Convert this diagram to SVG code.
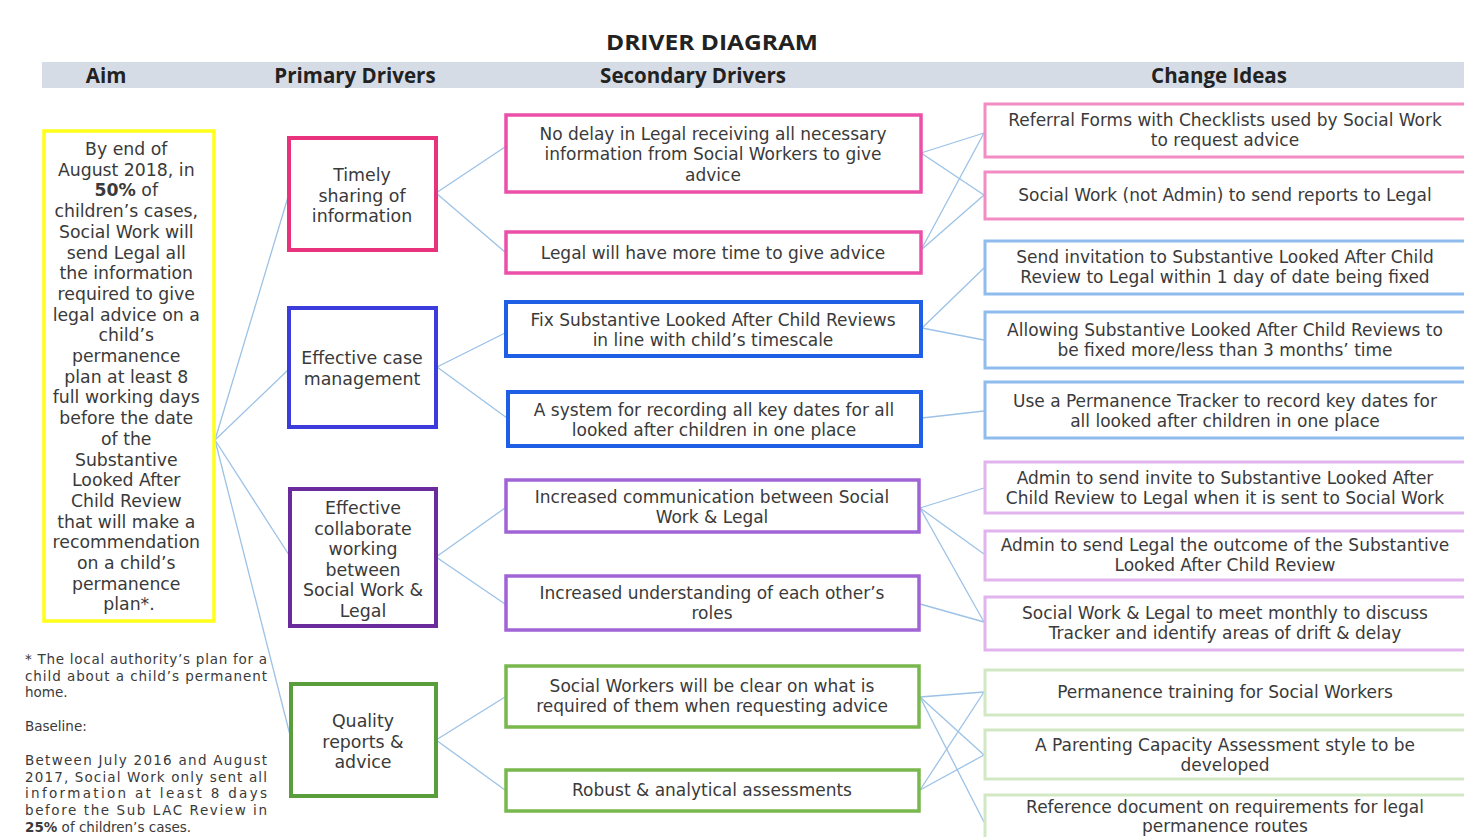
<svg xmlns="http://www.w3.org/2000/svg" width="1464" height="837" viewBox="0 0 1464 837">
<style>
.t{font-family:"DejaVu Sans","Liberation Sans",sans-serif;fill:#3a3a3a;text-anchor:middle}
.aim{font-size:17.3px}
.pd{font-size:17.4px}
.sd{font-size:17px}
.ci{font-size:17px}
.fn{font-family:"DejaVu Sans","Liberation Sans",sans-serif;fill:#3a3a3a;font-size:13.5px}
.hd{font-family:"Open Sans","Liberation Sans",sans-serif;font-weight:bold;fill:#222;text-anchor:middle;font-size:20.5px}
.box{fill:#fff}
.c{stroke:#9cc2e6;stroke-width:1.3;fill:none}
</style>
<rect width="1464" height="837" fill="#fff"/>
<text class="hd" x="712" y="50" font-size="27" textLength="212" lengthAdjust="spacingAndGlyphs">DRIVER DIAGRAM</text>
<rect x="42" y="62" width="1422" height="26" fill="#d6dce5"/>
<text class="hd" x="106" y="83">Aim</text>
<text class="hd" x="355" y="83">Primary Drivers</text>
<text class="hd" x="693" y="83">Secondary Drivers</text>
<text class="hd" x="1219" y="83">Change Ideas</text>

<g id="connectors">
<line class="c" x1="215" y1="440" x2="288" y2="197"/>
<line class="c" x1="215" y1="440" x2="288" y2="370"/>
<line class="c" x1="215" y1="440" x2="289" y2="555"/>
<line class="c" x1="215" y1="440" x2="290" y2="735"/>
<line class="c" x1="436" y1="193" x2="505" y2="147"/>
<line class="c" x1="436" y1="193" x2="505" y2="252"/>
<line class="c" x1="437" y1="367" x2="505" y2="333"/>
<line class="c" x1="437" y1="367" x2="507" y2="418"/>
<line class="c" x1="436" y1="557" x2="505" y2="508"/>
<line class="c" x1="436" y1="557" x2="505" y2="604"/>
<line class="c" x1="436" y1="740" x2="505" y2="697"/>
<line class="c" x1="436" y1="740" x2="505" y2="790"/>
<line class="c" x1="921" y1="153" x2="984" y2="133"/>
<line class="c" x1="921" y1="153" x2="984" y2="195"/>
<line class="c" x1="921" y1="250" x2="984" y2="133"/>
<line class="c" x1="921" y1="250" x2="984" y2="195"/>
<line class="c" x1="922" y1="328" x2="984" y2="268"/>
<line class="c" x1="922" y1="328" x2="984" y2="340"/>
<line class="c" x1="922" y1="418" x2="984" y2="411"/>
<line class="c" x1="920" y1="508" x2="984" y2="488"/>
<line class="c" x1="920" y1="508" x2="984" y2="554"/>
<line class="c" x1="920" y1="508" x2="984" y2="622"/>
<line class="c" x1="920" y1="604" x2="984" y2="622"/>
<line class="c" x1="920" y1="697" x2="984" y2="692"/>
<line class="c" x1="920" y1="697" x2="984" y2="755"/>
<line class="c" x1="920" y1="697" x2="984" y2="822"/>
<line class="c" x1="920" y1="790" x2="984" y2="692"/>
<line class="c" x1="920" y1="790" x2="984" y2="755"/>
</g>

<g id="aim">
<rect class="box" x="44" y="131" width="170" height="490" stroke="#ffff1a" stroke-width="3.5"/>
<text class="t aim">
<tspan x="129" y="155">By end of</tspan>
<tspan x="129" y="175.7">August 2018, in</tspan>
<tspan x="129" y="196.4"><tspan font-weight="bold">50%</tspan> of</tspan>
<tspan x="129" y="217.1">children’s cases,</tspan>
<tspan x="129" y="237.8">Social Work will</tspan>
<tspan x="129" y="258.5">send Legal all</tspan>
<tspan x="129" y="279.2">the information</tspan>
<tspan x="129" y="299.9">required to give</tspan>
<tspan x="129" y="320.6">legal advice on a</tspan>
<tspan x="129" y="341.3">child’s</tspan>
<tspan x="129" y="362">permanence</tspan>
<tspan x="129" y="382.7">plan at least 8</tspan>
<tspan x="129" y="403.4">full working days</tspan>
<tspan x="129" y="424.1">before the date</tspan>
<tspan x="129" y="444.8">of the</tspan>
<tspan x="129" y="465.5">Substantive</tspan>
<tspan x="129" y="486.2">Looked After</tspan>
<tspan x="129" y="506.9">Child Review</tspan>
<tspan x="129" y="527.6">that will make a</tspan>
<tspan x="129" y="548.3">recommendation</tspan>
<tspan x="129" y="569">on a child’s</tspan>
<tspan x="129" y="589.7">permanence</tspan>
<tspan x="129" y="610.4">plan*.</tspan>
</text>
</g>

<g id="footnote">
<text class="fn" x="25" y="664" textLength="242" lengthAdjust="spacing">* The local authority’s plan for a</text>
<text class="fn" x="25" y="681" textLength="242" lengthAdjust="spacing">child about a child’s permanent</text>
<text class="fn" x="25" y="697">home.</text>
<text class="fn" x="25" y="731">Baseline:</text>
<text class="fn" x="25" y="765" textLength="242" lengthAdjust="spacing">Between July 2016 and August</text>
<text class="fn" x="25" y="782" textLength="242" lengthAdjust="spacing">2017, Social Work only sent all</text>
<text class="fn" x="25" y="798" textLength="242" lengthAdjust="spacing">information at least 8 days</text>
<text class="fn" x="25" y="815" textLength="242" lengthAdjust="spacing">before the Sub LAC Review in</text>
<text class="fn" x="25" y="832"><tspan font-weight="bold">25%</tspan> of children’s cases.</text>
</g>

<g id="p1">
<rect class="box" x="289" y="138" width="147" height="112" stroke="#e8337c" stroke-width="4"/>
<text class="t pd"><tspan x="362" y="181">Timely</tspan><tspan x="362" y="201.5">sharing of</tspan><tspan x="362" y="222">information</tspan></text>
</g>
<g id="p2">
<rect class="box" x="289" y="308" width="147" height="119" stroke="#3c3cdc" stroke-width="4"/>
<text class="t pd"><tspan x="362" y="364">Effective case</tspan><tspan x="362" y="384.5">management</tspan></text>
</g>
<g id="p3">
<rect class="box" x="290" y="489" width="146" height="137" stroke="#6a2c9c" stroke-width="4"/>
<text class="t pd"><tspan x="363" y="514">Effective</tspan><tspan x="363" y="534.5">collaborate</tspan><tspan x="363" y="555">working</tspan><tspan x="363" y="575.5">between</tspan><tspan x="363" y="596">Social Work &amp;</tspan><tspan x="363" y="616.5">Legal</tspan></text>
</g>
<g id="p4">
<rect class="box" x="291" y="684" width="145" height="112" stroke="#5a9e3c" stroke-width="4"/>
<text class="t pd"><tspan x="363" y="727">Quality</tspan><tspan x="363" y="747.5">reports &amp;</tspan><tspan x="363" y="768">advice</tspan></text>
</g>

<g id="s1">
<rect class="box" x="506" y="115" width="415" height="77" stroke="#ec4fa8" stroke-width="3.5"/>
<text class="t sd"><tspan x="713" y="140">No delay in Legal receiving all necessary</tspan><tspan x="713" y="160">information from Social Workers to give</tspan><tspan x="713" y="181">advice</tspan></text>
</g>
<g id="s2">
<rect class="box" x="506" y="232" width="415" height="41" stroke="#ec4fa8" stroke-width="3.5"/>
<text class="t sd" x="713" y="259">Legal will have more time to give advice</text>
</g>
<g id="s3">
<rect class="box" x="506" y="302" width="415" height="54" stroke="#1e5fe6" stroke-width="4"/>
<text class="t sd"><tspan x="713" y="326">Fix Substantive Looked After Child Reviews</tspan><tspan x="713" y="346">in line with child’s timescale</tspan></text>
</g>
<g id="s4">
<rect class="box" x="508" y="392" width="413" height="54" stroke="#1e5fe6" stroke-width="4"/>
<text class="t sd"><tspan x="714" y="416">A system for recording all key dates for all</tspan><tspan x="714" y="436">looked after children in one place</tspan></text>
</g>
<g id="s5">
<rect class="box" x="506" y="480" width="413" height="52" stroke="#a064d6" stroke-width="3.5"/>
<text class="t sd"><tspan x="712" y="503">Increased communication between Social</tspan><tspan x="712" y="523">Work &amp; Legal</tspan></text>
</g>
<g id="s6">
<rect class="box" x="506" y="576" width="413" height="54" stroke="#a064d6" stroke-width="3.5"/>
<text class="t sd"><tspan x="712" y="599">Increased understanding of each other’s</tspan><tspan x="712" y="619">roles</tspan></text>
</g>
<g id="s7">
<rect class="box" x="506" y="666" width="413" height="61" stroke="#78b84c" stroke-width="3.5"/>
<text class="t sd"><tspan x="712" y="692">Social Workers will be clear on what is</tspan><tspan x="712" y="712">required of them when requesting advice</tspan></text>
</g>
<g id="s8">
<rect class="box" x="506" y="770" width="413" height="41" stroke="#78b84c" stroke-width="3.5"/>
<text class="t sd" x="712" y="796">Robust &amp; analytical assessments</text>
</g>

<g id="c1">
<rect class="box" x="985" y="104" width="485" height="53" stroke="#f28cc2" stroke-width="3"/>
<text class="t ci"><tspan x="1225" y="126">Referral Forms with Checklists used by Social Work</tspan><tspan x="1225" y="146">to request advice</tspan></text>
</g>
<g id="c2">
<rect class="box" x="985" y="172" width="485" height="47" stroke="#f28cc2" stroke-width="3"/>
<text class="t ci" x="1225" y="201">Social Work (not Admin) to send reports to Legal</text>
</g>
<g id="c3">
<rect class="box" x="985" y="241" width="485" height="53" stroke="#8fbcee" stroke-width="3"/>
<text class="t ci"><tspan x="1225" y="263">Send invitation to Substantive Looked After Child</tspan><tspan x="1225" y="283">Review to Legal within 1 day of date being fixed</tspan></text>
</g>
<g id="c4">
<rect class="box" x="985" y="312" width="485" height="56" stroke="#8fbcee" stroke-width="3"/>
<text class="t ci"><tspan x="1225" y="336">Allowing Substantive Looked After Child Reviews to</tspan><tspan x="1225" y="356">be fixed more/less than 3 months’ time</tspan></text>
</g>
<g id="c5">
<rect class="box" x="985" y="382" width="485" height="56" stroke="#8fbcee" stroke-width="3"/>
<text class="t ci"><tspan x="1225" y="407">Use a Permanence Tracker to record key dates for</tspan><tspan x="1225" y="427">all looked after children in one place</tspan></text>
</g>
<g id="c6">
<rect class="box" x="985" y="462" width="485" height="51" stroke="#e2b4ee" stroke-width="3"/>
<text class="t ci"><tspan x="1225" y="484">Admin to send invite to Substantive Looked After</tspan><tspan x="1225" y="504">Child Review to Legal when it is sent to Social Work</tspan></text>
</g>
<g id="c7">
<rect class="box" x="985" y="531" width="485" height="49" stroke="#e2b4ee" stroke-width="3"/>
<text class="t ci"><tspan x="1225" y="551">Admin to send Legal the outcome of the Substantive</tspan><tspan x="1225" y="571">Looked After Child Review</tspan></text>
</g>
<g id="c8">
<rect class="box" x="985" y="597" width="485" height="53" stroke="#e2b4ee" stroke-width="3"/>
<text class="t ci"><tspan x="1225" y="619">Social Work &amp; Legal to meet monthly to discuss</tspan><tspan x="1225" y="639">Tracker and identify areas of drift &amp; delay</tspan></text>
</g>
<g id="c9">
<rect class="box" x="985" y="670" width="485" height="45" stroke="#d2e8c4" stroke-width="3"/>
<text class="t ci" x="1225" y="698">Permanence training for Social Workers</text>
</g>
<g id="c10">
<rect class="box" x="985" y="730" width="485" height="49" stroke="#d2e8c4" stroke-width="3"/>
<text class="t ci"><tspan x="1225" y="751">A Parenting Capacity Assessment style to be</tspan><tspan x="1225" y="771">developed</tspan></text>
</g>
<g id="c11">
<rect class="box" x="985" y="795" width="485" height="60" stroke="#d2e8c4" stroke-width="3"/>
<text class="t ci"><tspan x="1225" y="813">Reference document on requirements for legal</tspan><tspan x="1225" y="832">permanence routes</tspan></text>
</g>
</svg>
